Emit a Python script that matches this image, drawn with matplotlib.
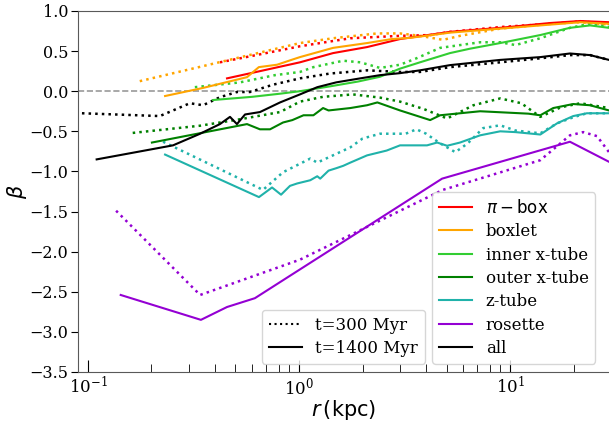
import matplotlib
matplotlib.use("Agg")
import matplotlib.pyplot as plt
from matplotlib.lines import Line2D

plt.rcParams['font.family'] = 'serif'
plt.rcParams['font.serif'] = ['DejaVu Serif']

# beta(r) profiles, t=300 Myr (dotted) and t=1400 Myr (solid)
pibox_r_1400 = [0.456, 0.653, 1.01, 1.45, 2.10, 3.01, 5.19, 8.97, 15.5, 21.5, 29.4]
pibox_b_1400 = [0.16, 0.25, 0.36, 0.475, 0.55, 0.65, 0.74, 0.79, 0.85, 0.875, 0.86]
pibox_r_300 = [0.422, 0.6, 1.01, 1.75, 3.01, 4.2, 5.2, 9.0, 15.5, 21.5, 29.4]
pibox_b_300 = [0.36, 0.44, 0.56, 0.66, 0.69, 0.70, 0.74, 0.80, 0.84, 0.87, 0.84]

boxlet_r_1400 = [0.232, 0.35, 0.567, 0.645, 0.787, 0.92, 1.01, 1.45, 2.10, 2.75, 3.36, 5.2, 9.0, 15.5, 21.5, 29.4]
boxlet_b_1400 = [-0.06, 0.04, 0.175, 0.30, 0.33, 0.39, 0.425, 0.54, 0.60, 0.65, 0.665, 0.73, 0.78, 0.83, 0.86, 0.84]
boxlet_r_300 = [0.176, 1.01, 1.45, 2.34, 3.01, 3.74, 4.81, 5.79, 8.97, 15.5, 21.5, 29.4]
boxlet_b_300 = [0.125, 0.6, 0.66, 0.72, 0.72, 0.69, 0.64, 0.69, 0.78, 0.84, 0.86, 0.83]

inner_r_1400 = [0.391, 0.6, 0.82, 1.01, 1.4, 1.9, 2.42, 3.0, 3.74, 5.19, 6.46, 8.97, 13.9, 19.2, 23.9, 29.4]
inner_b_1400 = [-0.11, -0.07, -0.03, 0.0, 0.06, 0.12, 0.18, 0.28, 0.36, 0.475, 0.53, 0.60, 0.70, 0.79, 0.82, 0.79]
inner_r_300 = [0.321, 0.525, 0.769, 1.01, 1.17, 1.62, 1.95, 2.42, 3.01, 3.6, 4.66, 7.21, 8.97, 10.6, 13.9, 19.2, 23.9, 29.4]
inner_b_300 = [0.05, 0.11, 0.20, 0.24, 0.30, 0.38, 0.36, 0.29, 0.33, 0.41, 0.54, 0.61, 0.61, 0.575, 0.66, 0.79, 0.84, 0.80]

outer_r_1400 = [0.201, 0.567, 0.653, 0.729, 0.84, 0.93, 1.05, 1.17, 1.30, 1.38, 1.75, 2.10, 2.35, 3.01,
                4.18, 4.66, 7.21, 12.2, 13.9, 16.0, 19.9, 23.9, 29.4]
outer_b_1400 = [-0.64, -0.41, -0.475, -0.475, -0.39, -0.36, -0.30, -0.30, -0.21, -0.24, -0.21, -0.175, -0.14, -0.24,
                -0.36, -0.30, -0.25, -0.28, -0.30, -0.21, -0.16, -0.175, -0.24]
outer_r_300 = [0.163, 0.34, 0.525, 0.813, 1.01, 1.30, 1.80, 2.42, 3.01, 3.88, 5.03, 6.7, 8.97, 11.3, 13.9, 17.4, 21.5, 29.4]
outer_b_300 = [-0.52, -0.43, -0.35, -0.26, -0.13, -0.07, -0.04, -0.08, -0.13, -0.22, -0.34, -0.175, -0.09, -0.15,
               -0.32, -0.2, -0.15, -0.21]

ztube_r_1400 = [0.232, 0.646, 0.745, 0.822, 0.906, 0.98, 1.13, 1.22, 1.26, 1.38, 1.50, 1.62, 1.75, 2.10, 2.6, 3.01,
                4.04, 4.51, 5.03, 5.79, 7.21, 8.97, 10.6, 13.9, 16.7, 19.9, 23.1, 29.4]
ztube_b_1400 = [-0.79, -1.32, -1.20, -1.29, -1.18, -1.15, -1.11, -1.06, -1.09, -0.99, -0.96, -0.93, -0.89, -0.80,
                -0.74, -0.675, -0.675, -0.64, -0.68, -0.64, -0.55, -0.50, -0.51, -0.54, -0.40, -0.31, -0.275, -0.275]
ztube_r_300 = [0.227, 0.675, 0.840, 1.13, 1.22, 1.75, 2.0, 2.42, 3.2, 3.6, 4.0, 4.66, 5.5, 6.3, 7.45, 8.97, 10.6,
               13.9, 16.7, 19.9, 23.1, 29.4]
ztube_b_300 = [-0.63, -1.23, -1.01, -0.84, -0.89, -0.70, -0.59, -0.53, -0.53, -0.475, -0.53, -0.65, -0.76, -0.65,
               -0.46, -0.425, -0.49, -0.525, -0.40, -0.325, -0.275, -0.275]

rosette_r_1400 = [0.143, 0.343, 0.456, 0.618, 4.76, 19.2, 29.4]
rosette_b_1400 = [-2.54, -2.85, -2.69, -2.58, -1.09, -0.63, -0.88]
rosette_r_300 = [0.136, 0.340, 1.01, 4.8, 13.9, 19.2, 22.2, 25.8, 29.4]
rosette_b_300 = [-1.49, -2.54, -2.1, -1.23, -0.86, -0.55, -0.51, -0.56, -0.76]

all_r_1400 = [0.110, 0.253, 0.340, 0.422, 0.471, 0.508, 0.555, 0.653, 0.813, 1.01, 1.22, 1.50, 1.95, 2.42, 3.01,
              3.74, 5.19, 8.97, 13.9, 19.2, 23.9, 29.4]
all_b_1400 = [-0.85, -0.675, -0.53, -0.41, -0.32, -0.41, -0.29, -0.26, -0.14, -0.04, 0.05, 0.11, 0.16, 0.20, 0.225,
              0.26, 0.325, 0.39, 0.425, 0.47, 0.45, 0.39]
all_r_300 = [0.0937, 0.219, 0.253, 0.304, 0.351, 0.422, 0.508, 0.586, 0.75, 1.01, 1.40, 2.10, 3.01, 3.74, 5.19,
             8.97, 13.9, 19.2, 23.9, 29.4]
all_b_300 = [-0.275, -0.31, -0.24, -0.15, -0.175, -0.075, -0.01, -0.01, 0.08, 0.16, 0.22, 0.26, 0.24, 0.24, 0.30,
             0.36, 0.41, 0.45, 0.45, 0.39]

labels = [r'$\pi-\mathrm{box}$', 'boxlet', 'inner x-tube', 'outer x-tube', 'z-tube', 'rosette', 'all']
colors = ['red', 'orange', 'limegreen', 'green', 'lightseagreen', 'darkviolet', 'black']
late = [(pibox_r_1400, pibox_b_1400), (boxlet_r_1400, boxlet_b_1400), (inner_r_1400, inner_b_1400),
        (outer_r_1400, outer_b_1400), (ztube_r_1400, ztube_b_1400), (rosette_r_1400, rosette_b_1400),
        (all_r_1400, all_b_1400)]
early = [(pibox_r_300, pibox_b_300), (boxlet_r_300, boxlet_b_300), (inner_r_300, inner_b_300),
         (outer_r_300, outer_b_300), (ztube_r_300, ztube_b_300), (rosette_r_300, rosette_b_300),
         (all_r_300, all_b_300)]

fig = plt.figure(figsize=(6.09, 4.22), dpi=100)
ax = fig.add_axes([0.128, 0.1185, 0.872, 0.8555])

ax.axhline(0, color='gray', ls='--', lw=1.2, alpha=0.8)

for (r, b), c in zip(early, colors):
    ax.plot(r, b, color=c, ls=':', lw=1.8)
for (r, b), c, lab in zip(late, colors, labels):
    ax.plot(r, b, color=c, lw=1.5, label=lab)

ax.set_xscale('log')
ax.set_xlim(0.0897, 29.4)
ax.set_ylim(-3.5, 1.0)
ax.set_xlabel(r'$r\,\mathrm{(kpc)}$', fontsize=15, labelpad=0)
ax.set_ylabel(r'$\beta$', fontsize=15, labelpad=0)

ax.tick_params(axis='x', which='major', direction='in', length=9, labelsize=12, pad=3)
ax.tick_params(axis='x', which='minor', direction='in', length=6)
ax.tick_params(axis='y', direction='out', length=5, labelsize=11.5, pad=2)
for side in ['left', 'bottom', 'top']:
    ax.spines[side].set_color('0.35')
ax.spines['right'].set_visible(False)

leg1 = ax.legend(loc='lower right', bbox_to_anchor=(0.99, 0.0), fontsize=12, labelspacing=0.38)
ax.add_artist(leg1)
style_handles = [Line2D([], [], color='black', ls=':', lw=1.5),
                 Line2D([], [], color='black', lw=1.5)]
ax.legend(style_handles, ['t=300 Myr', 't=1400 Myr'], loc='lower center', fontsize=12, labelspacing=0.38)

fig.savefig('out.png', dpi=100)
